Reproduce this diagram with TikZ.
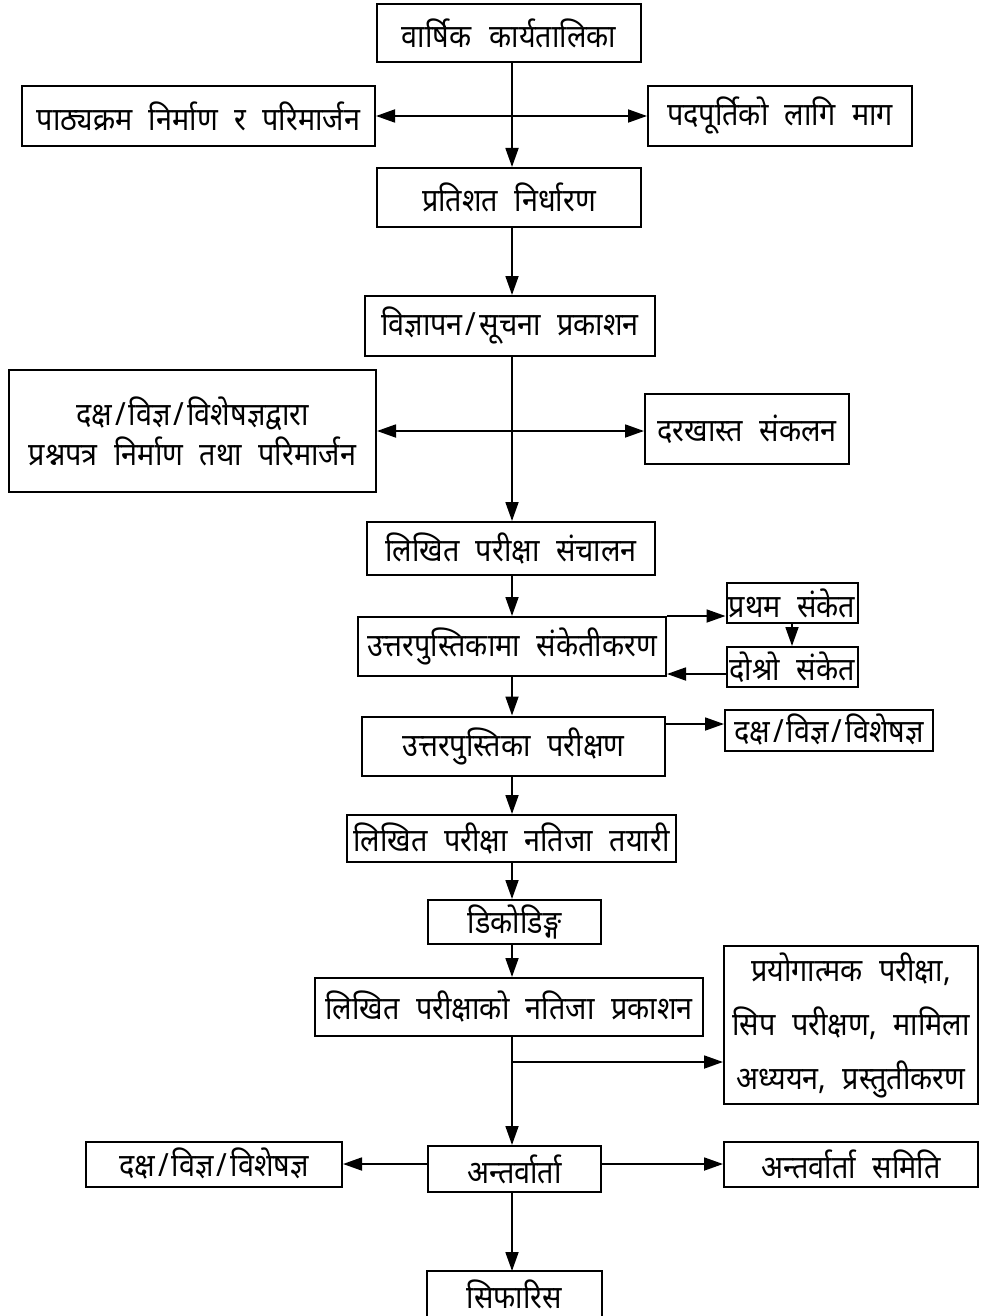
\documentclass[tikz,border=0pt]{standalone}
\usepackage{fontspec}
\usetikzlibrary{arrows.meta}
\newfontfamily\dev[Script=Devanagari,FakeStretch=0.9,WordSpace=2.2]{Noto Sans}
\newcommand{\myslash}{\kern3pt/\kern3pt}
\begin{document}
\begin{tikzpicture}[x=1pt,y=-1pt,
  box/.style={draw,line width=2pt,inner sep=0pt,align=center,
    font=\dev\fontsize{32}{40}\selectfont},
  arr/.style={line width=1.8pt,-{Triangle[length=19pt,width=13pt]}},
  darr/.style={line width=1.8pt,{Triangle[length=19pt,width=13pt]}-{Triangle[length=19pt,width=13pt]}}]
\clip (0,0) rectangle (980,1316);
\fill[white] (0,0) rectangle (980,1316);
\coordinate (sp) at (512,0);
\node[box,minimum width=264,minimum height=58] (n1) at (509,33) {वार्षिक \kern2pt कार्यतालिका};
\node[box,minimum width=353,minimum height=60] (n2) at (198.5,116) {पाठ्यक्रम निर्माण र परिमार्जन};
\node[box,minimum width=264,minimum height=60] (n3) at (780,116) {पदपूर्तिको लागि माग};
\node[box,minimum width=264,minimum height=59] (n4) at (509,197.5) {प्रतिशत निर्धारण};
\node[box,minimum width=290,minimum height=60] (n5) at (510,326) {विज्ञापन\myslash सूचना प्रकाशन};
\node[box,minimum width=367,minimum height=122] (n6) at (192.5,431) {दक्ष\myslash विज्ञ\myslash विशेषज्ञद्वारा\\प्रश्नपत्र निर्माण तथा परिमार्जन};
\node[box,minimum width=204,minimum height=70] (n7) at (747,429) {दरखास्त संकलन};
\node[box,minimum width=288,minimum height=53] (n8) at (511,548.5) {लिखित परीक्षा संचालन};
\node[box,minimum width=308,minimum height=59] (n9) at (512,646.5) {उत्तरपुस्तिकामा संकेतीकरण};
\node[box,minimum width=131,minimum height=40] (n10) at (792,603) {प्रथम संकेत};
\node[box,minimum width=131,minimum height=40] (n11) at (792,667) {दोश्रो संकेत};
\node[box,minimum width=303,minimum height=59] (n12) at (513.5,746) {उत्तरपुस्तिका परीक्षण};
\node[box,minimum width=208,minimum height=41] (n13) at (829,730) {दक्ष\myslash विज्ञ\myslash विशेषज्ञ};
\node[box,minimum width=329,minimum height=47] (n14) at (511.5,838.5) {लिखित परीक्षा नतिजा तयारी};
\node[box,minimum width=173,minimum height=44] (n15) at (514.5,922) {डिकोडिङ्ग};
\node[box,minimum width=388,minimum height=58] (n16) at (509,1007) {लिखित परीक्षाको नतिजा प्रकाशन};
\node[box,minimum width=254,minimum height=158,font=\dev\fontsize{32}{54}\selectfont] (n17) at (851,1025) {प्रयोगात्मक परीक्षा,\\सिप परीक्षण, मामिला\\अध्ययन, प्रस्तुतीकरण};
\node[box,minimum width=173,minimum height=46] (n18) at (514.5,1169) {अन्तर्वार्ता};
\node[box,minimum width=256,minimum height=45] (n19) at (214,1164) {दक्ष\myslash विज्ञ\myslash विशेषज्ञ};
\node[box,minimum width=254,minimum height=45] (n20) at (851,1164) {अन्तर्वार्ता समिति};
\node[box,draw=none,minimum width=173,minimum height=44] (n21) at (514.5,1294) {सिफारिस};
\draw[line width=2pt] ([yshift=-20pt]n21.south west) -- (n21.north west) -- (n21.north east) -- ([yshift=-20pt]n21.south east);
\draw[arr] (n1.south -| sp) -- (n4.north -| sp);
\draw[darr] (n2) -- (n3);
\draw[arr] (n4.south -| sp) -- (n5.north -| sp);
\draw[arr] (n5.south -| sp) -- (n8.north -| sp);
\draw[darr] (n6.east) -- (n6.east -| n7.west);
\draw[arr] (n8.south -| sp) -- (n9.north -| sp);
\draw[arr] (n9.north east) -- (n9.north east -| n10.west);
\draw[arr] (n10.south) -- (n11.north);
\draw[arr] ([yshift=-7pt]n11.west) -- ([yshift=-7pt]n11.west -| n9.east);
\draw[arr] (n9.south -| sp) -- (n12.north -| sp);
\draw[arr] ([yshift=6pt]n13.west -| n12.east) -- ([yshift=6pt]n13.west);
\draw[arr] (n12.south -| sp) -- (n14.north -| sp);
\draw[arr] (n14.south -| sp) -- (n15.north -| sp);
\draw[arr] (n15.south -| sp) -- (n16.north -| sp);
\draw[arr] (n16.south -| sp) -- (n18.north -| sp);
\coordinate (br) at (512,1062);
\draw[arr] (br) -- (br -| n17.west);
\draw[arr] (n18.west |- n19.east) -- (n19.east);
\draw[arr] (n18.east |- n20.west) -- (n20.west);
\draw[arr] (n18.south -| sp) -- (n21.north -| sp);
\end{tikzpicture}
\end{document}
